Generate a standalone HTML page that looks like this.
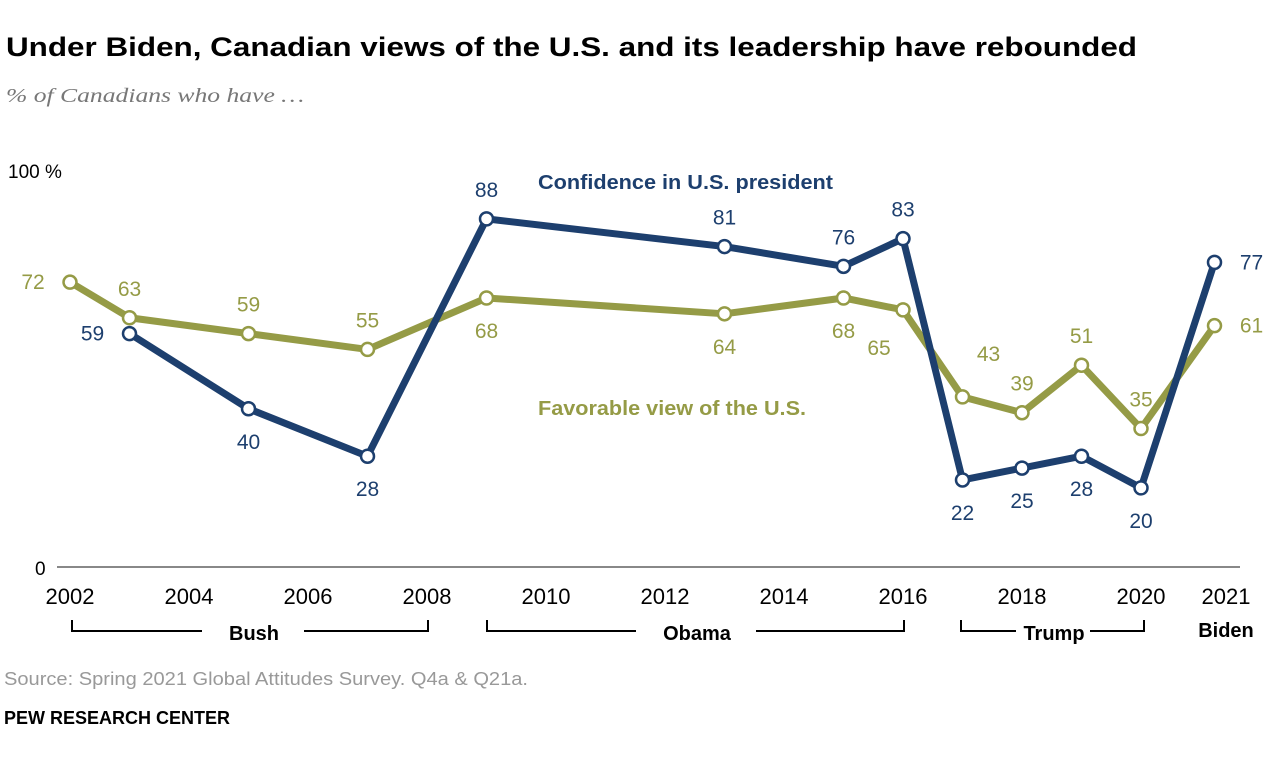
<!DOCTYPE html>
<html><head><meta charset="utf-8"><style>
body{margin:0;background:#fff;width:1280px;height:764px;overflow:hidden}
svg text{font-family:"Liberation Sans",Arial,sans-serif}
</style></head><body>
<svg width="1280" height="764" viewBox="0 0 1280 764">
<text x="6" y="56" font-size="27" font-weight="bold" fill="#000" textLength="1131" lengthAdjust="spacingAndGlyphs">Under Biden, Canadian views of the U.S. and its leadership have rebounded</text>
<text x="6" y="102" font-size="20" font-style="italic" fill="#777" textLength="298" lengthAdjust="spacingAndGlyphs" style="font-family:'Liberation Serif',serif">% of Canadians who have …</text>
<text x="8" y="178" font-size="19" fill="#000">100 %</text>
<text x="35" y="575" font-size="19" fill="#000">0</text>
<line x1="57" y1="567" x2="1240" y2="567" stroke="#888" stroke-width="2"/>
<g id="xticks"></g>
<g id="eras" stroke="#000" stroke-width="2" fill="none">
<path d="M72 620V631H202M304 631H428V620"/>
<path d="M487 620V631H636M756 631H904V620"/>
<path d="M961 620V631H1016M1090 631H1144V620"/>
</g>
<g font-size="20" font-weight="bold" text-anchor="middle" fill="#000">
<text x="254" y="640">Bush</text>
<text x="697" y="640">Obama</text>
<text x="1054" y="640">Trump</text>
<text x="1226" y="637">Biden</text>
</g>
<g id="series"></g>
<text x="538" y="189" font-size="20" font-weight="bold" fill="#1d3f6e" textLength="295" lengthAdjust="spacingAndGlyphs">Confidence in U.S. president</text>
<text x="538" y="415" font-size="20" font-weight="bold" fill="#959b46" textLength="268" lengthAdjust="spacingAndGlyphs">Favorable view of the U.S.</text>
<text x="4" y="685" font-size="18" fill="#999" textLength="524" lengthAdjust="spacingAndGlyphs">Source: Spring 2021 Global Attitudes Survey. Q4a &amp; Q21a.</text>
<text x="4" y="724" font-size="18" font-weight="bold" fill="#000" textLength="226" lengthAdjust="spacingAndGlyphs">PEW RESEARCH CENTER</text>
</svg>
<script>
const tickYears=[2002,2004,2006,2008,2010,2012,2014,2016,2018,2020,2021];
const confYears=[2003,2005,2007,2009,2013,2015,2016,2017,2018,2019,2020,2021];
const confValues=[59,40,28,88,81,76,83,22,25,28,20,77];
const favYears=[2002,2003,2005,2007,2009,2013,2015,2016,2017,2018,2019,2020,2021];
const favValues=[72,63,59,55,68,64,68,65,43,39,51,35,61];
const confPos=['l','b','b','t','t','t','t','b','b','b','b','r'];
const favPos=['l','t','t','t','b','b','b','bl','tr','t','t','t','r'];
function x(yr){return 70+(yr-2002)*59.5+(yr>2020.5?14:0);}
function y(v){return 567-v*3.956;}
function tickX(yr){return yr===2021?1226:70+(yr-2002)*59.5;}
const NS='http://www.w3.org/2000/svg';
const tg=document.getElementById('xticks');
tickYears.forEach(t=>{const e=document.createElementNS(NS,'text');e.setAttribute('x',tickX(t));e.setAttribute('y',604);e.setAttribute('font-size','22');e.setAttribute('text-anchor','middle');e.textContent=t;


tg.appendChild(e);});
const sg=document.getElementById('series');
function draw(years,vals,pos,color,name){
const p=document.createElementNS(NS,'polyline');
p.setAttribute('points',years.map((yr,i)=>x(yr)+','+y(vals[i])).join(' '));
p.setAttribute('fill','none');p.setAttribute('stroke',color);p.setAttribute('stroke-width','7');p.setAttribute('stroke-linejoin','round');


sg.appendChild(p);
years.forEach((yr,i)=>{const cx=x(yr),cy=y(vals[i]);
const c=document.createElementNS(NS,'circle');c.setAttribute('cx',cx);c.setAttribute('cy',cy);c.setAttribute('r','6.5');c.setAttribute('fill','#fff');c.setAttribute('stroke',color);c.setAttribute('stroke-width','2.5');


sg.appendChild(c);
const t=document.createElementNS(NS,'text');let tx=cx,ty=cy,a='middle';const ps=pos[i];
if(ps==='t')ty=cy-22;else if(ps==='b')ty=cy+40;else if(ps==='l'){tx=cx-37;ty=cy+7;}else if(ps==='r'){tx=cx+37;ty=cy+7;}else if(ps==='bl'){tx=cx-24;ty=cy+45;}else if(ps==='tr'){tx=cx+26;ty=cy-36;}
t.setAttribute('x',tx);t.setAttribute('y',ty);t.setAttribute('text-anchor',a);t.setAttribute('font-size','21');t.setAttribute('fill',color);t.textContent=vals[i];


sg.appendChild(t);});
}
draw(favYears,favValues,favPos,'#959b46','favorable');
draw(confYears,confValues,confPos,'#1d3f6e','confidence');
</script>
</body></html>
